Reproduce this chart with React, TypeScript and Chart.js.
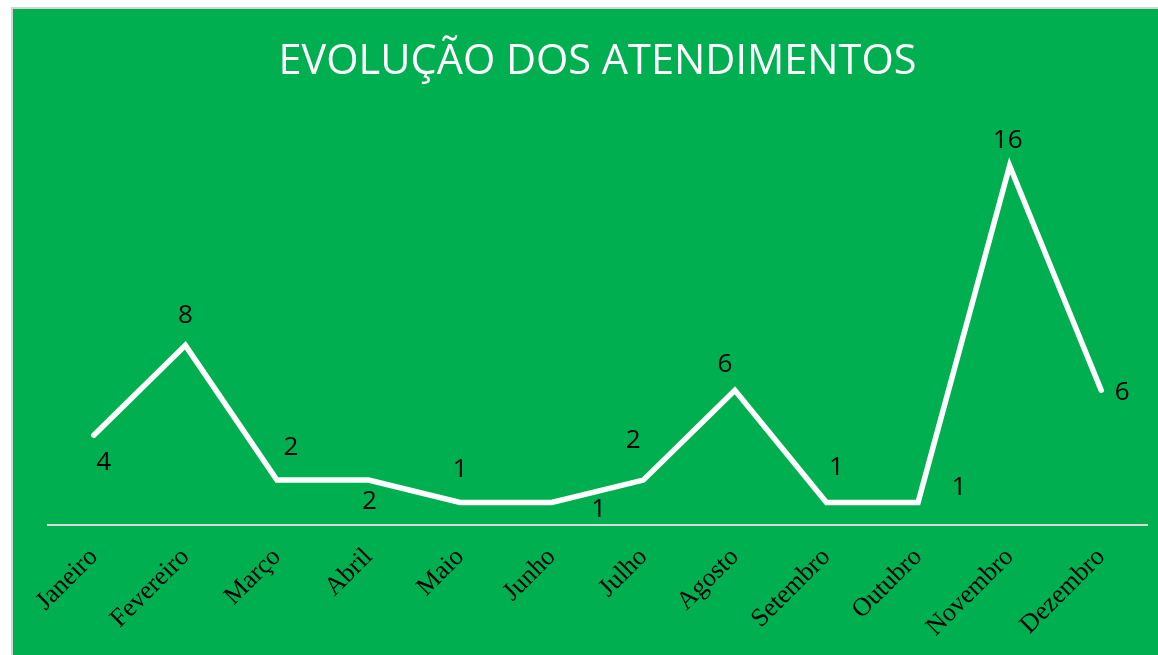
import React, { useEffect, useRef } from "react";
import { Chart, registerables } from "chart.js";

Chart.register(...registerables);

const months = ["Janeiro", "Fevereiro", "Março", "Abril", "Maio", "Junho", "Julho", "Agosto", "Setembro", "Outubro", "Novembro", "Dezembro"];
const atendimentos = [4, 8, 2, 2, 1, 1, 2, 6, 1, 1, 16, 6];
const titleText = "EVOLUÇÃO DOS ATENDIMENTOS";

// label offsets (dx, dy) relative to each point, mimicking the original placement
const labelOffsets: [number, number][] = [
  [10, 27], [0, -30], [14, -32], [1, 22], [0, -33], [47, 7],
  [-10, -39], [-10, -26], [10, -35], [41, -15], [-2, -25], [21, 2],
];

const labelPlugin = {
  id: "pointLabels",
  afterDatasetsDraw(chart: any) {
    const ctx = chart.ctx;
    const meta = chart.getDatasetMeta(0);
    const data = chart.data.datasets[0].data;
    ctx.save();
    ctx.font = "26px 'Open Sans'";
    ctx.fillStyle = "#000000";
    ctx.textAlign = "center";
    ctx.textBaseline = "middle";
    meta.data.forEach((pt: any, i: number) => {
      const [dx, dy] = labelOffsets[i] || [0, -25];
      ctx.fillText(String(data[i]), pt.x + dx, pt.y + dy);
    });
    ctx.restore();
  },
};

export default function App() {
  const ref = useRef<HTMLCanvasElement | null>(null);
  useEffect(() => {
    if (!ref.current) return;
    const chart = new Chart(ref.current, {
      type: "line",
      data: {
        labels: months,
        datasets: [
          {
            data: atendimentos,
            borderColor: "#ffffff",
            borderWidth: 5.5,
            borderCapStyle: "round",
            borderJoinStyle: "miter",
            pointRadius: 0,
            tension: 0,
            fill: false,
          },
        ],
      },
      options: {
        animation: false,
        responsive: true,
        maintainAspectRatio: false,
        layout: { padding: { left: 35, right: 11, top: 0, bottom: 0 } },
        plugins: {
          legend: { display: false },
          tooltip: { enabled: false },
          title: {
            display: true,
            text: titleText,
            color: "#ffffff",
            font: { family: "'Open Sans'", size: 41.5, weight: "normal" },
            padding: { top: 28, bottom: 34 },
          },
        },
        scales: {
          x: {
            offset: true,
            grid: { display: false, drawTicks: false, offset: true },
            border: { display: true, color: "#d9d9d9", width: 2 },
            ticks: {
              color: "#000000",
              font: { family: "'Liberation Serif'", size: 26 },
              minRotation: 45,
              maxRotation: 45,
              autoSkip: false,
              padding: 17,
            },
            afterFit: (scale: any) => {
              scale.height = 130;
              scale.paddingLeft = 0;
              scale.paddingRight = 0;
            },
          },
          y: {
            display: false,
            min: 0,
            max: 18,
          },
        },
      },
      plugins: [labelPlugin],
    });
    return () => chart.destroy();
  }, []);

  return (
    <div
      style={{
        position: "fixed",
        left: 11,
        top: 7,
        width: 1147,
        height: 648,
        borderTop: "2px solid #d4d4d4",
        borderLeft: "2px solid #d4d4d4",
        boxSizing: "border-box",
        background: "#00B050",
      }}
    >
      <div style={{ position: "relative", width: 1145, height: 646 }}>
        <canvas ref={ref} />
      </div>
    </div>
  );
}
